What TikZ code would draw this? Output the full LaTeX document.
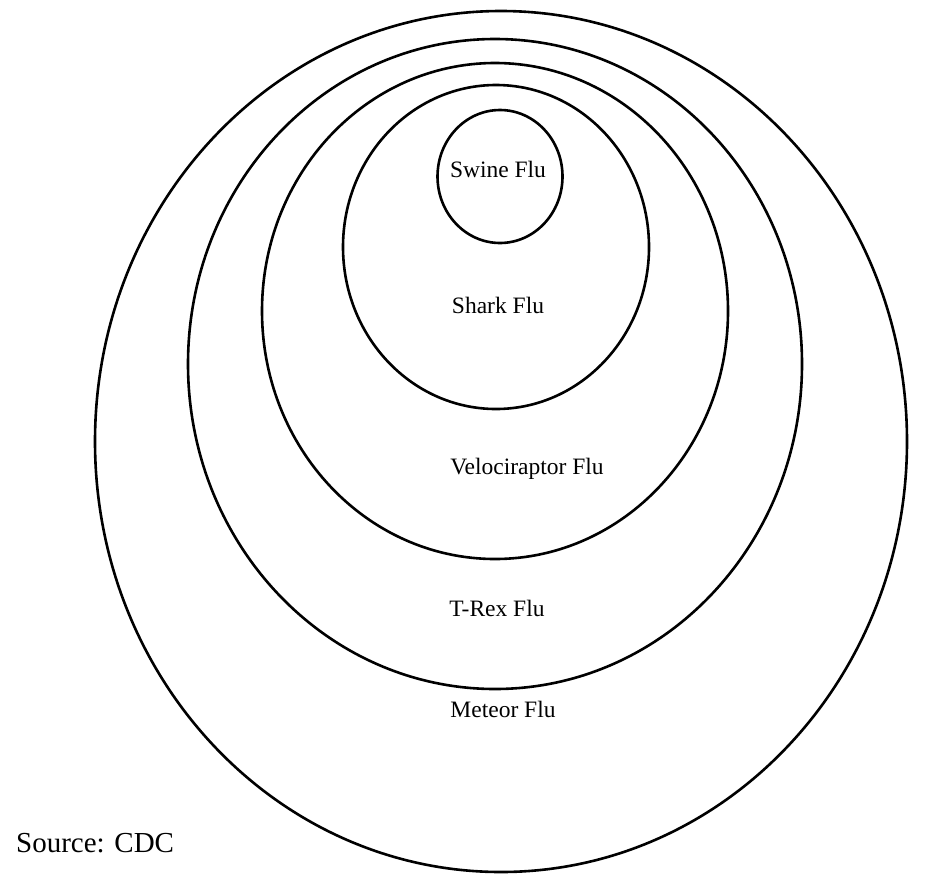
\documentclass[tikz,border=0pt]{standalone}
\usepackage{fontspec}
\setmainfont{Liberation Serif}
\usetikzlibrary{positioning}
\tikzset{
  fluring/.style={line width=2.6pt, color=black},
  flulabel/.style={font=\fontsize{23.5}{28}\selectfont, inner sep=0pt}
}

\begin{document}
\begin{tikzpicture}[x=1pt, y=-1pt]
			%%%%% START %%%%%
			\useasboundingbox (0, 0) rectangle (925, 876);
			
			\draw[fluring] (501, 441.5) ellipse [x radius=406pt, y radius=430.5pt];
			\draw[fluring] (495, 364) ellipse [x radius=307pt, y radius=325pt];
			\draw[fluring] (495, 311) ellipse [x radius=233pt, y radius=248pt];
			\draw[fluring] (496, 247) ellipse [x radius=153pt, y radius=162pt];
			\draw[fluring] (500, 176.5) ellipse [x radius=62.5pt, y radius=66.5pt];
			
			\node[flulabel] (swine) at (498, 169) {Swine Flu};
			\node[flulabel] (shark) at (498, 305) {Shark Flu};
			\node[flulabel] (velociraptor) at (527, 469) {Velociraptor Flu};
			\node[flulabel] (trex) at (497, 608) {T-Rex Flu};
			\node[flulabel] (meteor) at (503, 709) {Meteor Flu};
			
			\node[font=\fontsize{29}{34}\selectfont, inner sep=0pt, anchor=west] (source) at (16, 843) {Source: CDC};
			
			%%%%% END %%%%%
		\end{tikzpicture}
\end{document}
